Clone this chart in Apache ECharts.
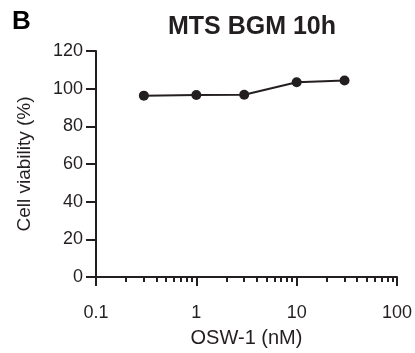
<!DOCTYPE html>
<html>
<head>
<meta charset="utf-8">
<script src="https://cdn.jsdelivr.net/npm/echarts@6/dist/echarts.min.js"></script>
<style>
html,body{margin:0;padding:0;background:#fff;}
#chart{width:415px;height:353px;}
</style>
</head>
<body>
<div id="chart"></div>
<script>
// Data
const concentrations = [0.3, 1, 3, 10, 30];
const viability = [96.3, 96.6, 96.8, 103.4, 104.3];
const xMajorTicks = [0.1, 1, 10, 100];
const xMinorTicks = [0.2,0.3,0.4,0.5,0.6,0.7,0.8,0.9,2,3,4,5,6,7,8,9,20,30,40,50,60,70,80,90];
const yTicks = [0, 20, 40, 60, 80, 100, 120];
const titleText = 'MTS BGM 10h';
const panelLabel = 'B';
const xName = 'OSW-1 (nM)';
const yName = 'Cell viability (%)';

const ink = '#231f20';
const font = 'Liberation Sans, Arial, Helvetica, sans-serif';

const chart = echarts.init(document.getElementById('chart'), null, {renderer: 'canvas'});
chart.setOption({
  animation: false,
  backgroundColor: '#fff',
  title: [
    {text: titleText, left: 247, top: 10, textAlign: 'center',
     textStyle: {fontFamily: font, fontSize: 25, fontWeight: 'bold', color: ink}},
    {text: panelLabel, left: 7, top: 4,
     textStyle: {fontFamily: font, fontSize: 26, fontWeight: 'bold', color: '#000'}}
  ],
  grid: {left: 96, right: 17, top: 51, bottom: 76, containLabel: false},
  xAxis: [
    {
      type: 'log', logBase: 10, min: 0.1, max: 100, position: 'bottom',
      name: xName, nameLocation: 'middle', nameGap: 51,
      nameTextStyle: {fontFamily: font, fontSize: 20, color: ink},
      axisLine: {show: true, lineStyle: {color: ink, width: 2}},
      axisTick: {show: true, inside: false, length: 9, lineStyle: {color: ink, width: 2}, customValues: xMajorTicks},
      axisLabel: {show: true, customValues: xMajorTicks, margin: 27, fontFamily: font, fontSize: 18, color: ink,
        formatter: v => String(+parseFloat(v).toPrecision(3))},
      splitLine: {show: false},
      minorTick: {show: false}
    },
    {
      type: 'log', logBase: 10, min: 0.1, max: 100, position: 'bottom',
      axisLine: {show: false},
      axisTick: {show: true, inside: false, length: 5, lineStyle: {color: ink, width: 2}, customValues: xMinorTicks},
      axisLabel: {show: false},
      splitLine: {show: false}
    }
  ],
  yAxis: {
    type: 'value', min: 0, max: 120, interval: 20,
    name: yName, nameLocation: 'middle', nameGap: 62,
    nameTextStyle: {fontFamily: font, fontSize: 19, color: ink},
    axisLine: {show: true, lineStyle: {color: ink, width: 2}},
    axisTick: {show: true, inside: false, length: 10, lineStyle: {color: ink, width: 2}},
    axisLabel: {margin: 13, fontFamily: font, fontSize: 18, color: ink},
    splitLine: {show: false}
  },
  series: [{
    type: 'line',
    xAxisIndex: 0,
    data: concentrations.map((c, i) => [c, viability[i]]),
    symbol: 'circle', symbolSize: 10,
    lineStyle: {color: ink, width: 2},
    itemStyle: {color: ink},
    z: 5
  }]
});
</script>
</body>
</html>
